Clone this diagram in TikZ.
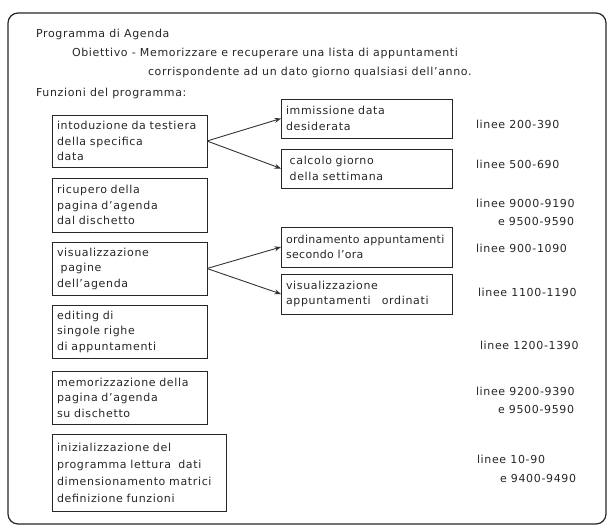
\documentclass[tikz,border=0pt]{standalone}
\usepackage{fontspec}
\setmainfont{DejaVu Sans}[LetterSpace=6]
\usetikzlibrary{arrows.meta}
\begin{document}
\begin{tikzpicture}[x=1pt,y=-1pt,
  every node/.style={font=\fontsize{11}{15.5}\selectfont, text=black!85, inner sep=0pt, outer sep=0pt},
  label/.style={anchor=west},
  fbox/.style={draw=black!85, line width=0.9pt, anchor=north west, align=left,
    inner xsep=5pt, inner ysep=2pt},
  conn/.style={draw=black!80, line width=0.9pt, -{Stealth[length=6.5pt,width=5pt]}}]
\useasboundingbox (0,0) rectangle (611,528);
% outer frame
\draw[black!85, line width=1.2pt, rounded corners=10pt] (8,13) rectangle (606,524);

% heading
\node[label] (title) at (36,34) {Programma di Agenda};
\node[label] (goal1) at (72,53) {Obiettivo - Memorizzare e recuperare una lista di appuntamenti};
\node[label] (goal2) at (148,72) {corrispondente ad un dato giorno qualsiasi dell'anno.};
\node[label] (funz) at (36,93) {Funzioni del programma:};

% program functions (left column)
\node[fbox, text width=145, minimum height=52] (b1) at (52,115)
  {intoduzione da testiera\\della specifica\\data};
\node[fbox, text width=145, minimum height=54] (b2) at (52,178)
  {ricupero della\\pagina d'agenda\\dal dischetto};
\node[fbox, text width=145, minimum height=53] (b3) at (52,242)
  {visualizzazione\\\ pagine\\dell'agenda};
\node[fbox, text width=145, minimum height=53] (b4) at (52,305)
  {editing di\\singole righe\\di appuntamenti};
\node[fbox, text width=145, minimum height=53] (b5) at (52,371)
  {memorizzazione della\\pagina d'agenda\\su dischetto};
\node[fbox, text width=164, minimum height=77, font=\fontsize{11}{17}\selectfont] (b6) at (52,434)
  {inizializzazione del\\programma lettura\ \ dati\\dimensionamento matrici\\definizione funzioni};

% sub-functions (right column)
\node[fbox, text width=161, minimum height=39] (r1) at (281,99)
  {immissione data\\desiderata};
\node[fbox, text width=161, minimum height=39] (r2) at (281,149)
  {\ calcolo giorno\\\ della settimana};
\node[fbox, text width=161, minimum height=40,
  font=\fontsize{11}{15.5}\selectfont\addfontfeatures{LetterSpace=3}] (r3) at (281,227)
  {\mbox{ordinamento appuntamenti}\\secondo l'ora};
\node[fbox, text width=161, minimum height=40] (r4) at (281,274)
  {visualizzazione\\appuntamenti\ \ \ ordinati};

\draw[conn] (b1.east) -- (r1.west);
\draw[conn] (b1.east) -- (r2.west);
\draw[conn] (b3.east) -- (r3.west);
\draw[conn] (b3.east) -- (r4.west);

% line ranges
\node[label] (n1) at (476,124) {linee 200-390};
\node[label] (n2) at (476,164) {linee 500-690};
\node[label] (n3) at (476,203) {linee 9000-9190};
\node[label] (n3b) at (498,221) {e 9500-9590};
\node[label] (n4) at (476,248) {linee 900-1090};
\node[label] (n5) at (478,292) {linee 1100-1190};
\node[label] (n6) at (480,345) {linee 1200-1390};
\node[label] (n7) at (476,391) {linee 9200-9390};
\node[label] (n7b) at (498,409) {e 9500-9590};
\node[label] (n8) at (477,459) {linee 10-90};
\node[label] (n8b) at (500,478) {e 9400-9490};
\end{tikzpicture}
\end{document}
